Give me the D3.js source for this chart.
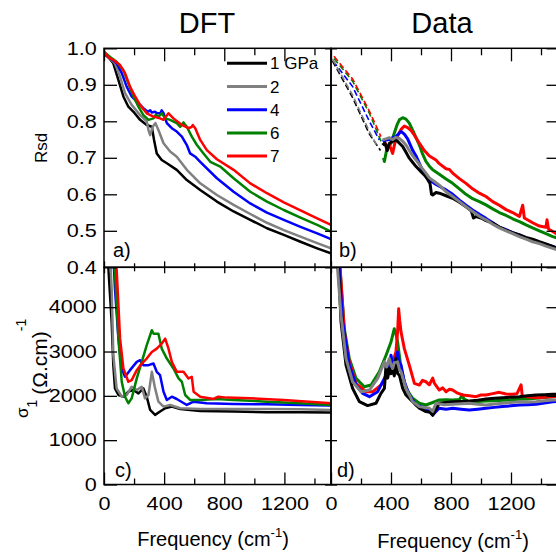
<!DOCTYPE html>
<html><head><meta charset="utf-8">
<script src="https://cdn.jsdelivr.net/npm/d3@7"></script>
<style>
body{margin:0;background:#fff}
svg text{font-family:"Liberation Sans",Arial,Helvetica,sans-serif;fill:#000}
</style></head>
<body><svg id="chart" width="556" height="554"></svg>
<script>
// ---------- series meta ----------
const pressures = ["1 GPa", "2", "4", "6", "7"];
const colors = ["#000000", "#808080", "#0000ff", "#008000", "#ff0000"];

// ---------- tick values ----------
const freqMajor = [0, 400, 800, 1200];
const freqMinor = [200, 600, 1000, 1400];
const rsdTicks = [0.4, 0.5, 0.6, 0.7, 0.8, 0.9, 1.0];
const sigmaTicks = [0, 1000, 2000, 3000, 4000];

// ---------- a) DFT Rsd  [frequency, Rsd] ----------
const dftRsd1 = [[0,0.985],[30,0.975],[62,0.959],[96,0.913],[129,0.868],[162,0.84],[196,0.826],[240,0.804],[284,0.79],[318,0.785],[333,0.749],[351,0.712],[384,0.694],[418,0.685],[484,0.667],[551,0.639],[640,0.612],[751,0.58],[862,0.553],[973,0.53],[1084,0.507],[1196,0.489],[1307,0.47],[1418,0.452],[1510,0.438]];
const dftRsd2 = [[0,0.988],[40,0.972],[73,0.959],[107,0.922],[140,0.877],[184,0.845],[240,0.817],[284,0.8],[296,0.776],[307,0.762],[324,0.785],[342,0.795],[362,0.776],[396,0.74],[440,0.717],[484,0.703],[551,0.667],[640,0.63],[751,0.598],[862,0.571],[973,0.546],[1084,0.522],[1196,0.502],[1307,0.484],[1418,0.466],[1510,0.452]];
const dftRsd4 = [[0,0.988],[45,0.972],[84,0.959],[118,0.932],[151,0.895],[184,0.868],[218,0.854],[262,0.836],[290,0.826],[307,0.83],[318,0.824],[340,0.826],[351,0.822],[375,0.822],[384,0.83],[396,0.822],[418,0.795],[451,0.781],[484,0.772],[518,0.758],[551,0.735],[573,0.712],[607,0.703],[640,0.689],[751,0.644],[862,0.607],[973,0.575],[1084,0.55],[1196,0.53],[1307,0.511],[1418,0.493],[1510,0.477]];
const dftRsd6 = [[0,0.99],[45,0.975],[84,0.963],[129,0.94],[162,0.904],[196,0.868],[229,0.84],[262,0.817],[296,0.804],[329,0.808],[345,0.818],[362,0.812],[384,0.822],[407,0.808],[440,0.804],[484,0.795],[507,0.785],[529,0.797],[540,0.79],[551,0.785],[584,0.758],[618,0.735],[662,0.712],[707,0.689],[773,0.676],[862,0.644],[973,0.607],[1084,0.58],[1196,0.557],[1307,0.536],[1418,0.516],[1510,0.498]];
const dftRsd7 = [[0,0.992],[30,0.975],[62,0.968],[107,0.954],[140,0.932],[173,0.895],[207,0.868],[240,0.845],[284,0.822],[329,0.813],[373,0.808],[396,0.804],[429,0.822],[462,0.808],[518,0.79],[562,0.781],[584,0.785],[590,0.79],[607,0.781],[640,0.749],[684,0.721],[751,0.696],[862,0.667],[973,0.63],[1084,0.603],[1196,0.578],[1307,0.556],[1418,0.534],[1510,0.516]];

// ---------- b) measured Rsd: dashed extrapolation + data ----------
const extRsd1 = [[10,0.965],[144,0.865],[256,0.765],[330,0.72]];
const extRsd2 = [[10,0.97],[144,0.872],[256,0.772],[311,0.73]];
const extRsd4 = [[15,0.965],[144,0.895],[256,0.8],[322,0.749]];
const extRsd6 = [[20,0.972],[144,0.91],[256,0.822],[344,0.735]];
const extRsd7 = [[20,0.978],[144,0.916],[256,0.828],[333,0.758]];

const dataRsd1 = [[344,0.735],[360,0.74],[375,0.72],[389,0.74],[411,0.745],[433,0.749],[456,0.74],[478,0.731],[500,0.715],[522,0.699],[544,0.688],[567,0.676],[600,0.662],[633,0.648],[660,0.63],[670,0.6],[678,0.598],[700,0.605],[722,0.603],[767,0.596],[811,0.589],[856,0.578],[900,0.566],[935,0.555],[950,0.535],[967,0.539],[1000,0.535],[1033,0.528],[1078,0.521],[1122,0.51],[1167,0.502],[1211,0.495],[1256,0.489],[1300,0.482],[1344,0.477],[1389,0.47],[1433,0.464],[1478,0.457],[1510,0.452]];
const dataRsd2 = [[344,0.749],[367,0.752],[389,0.755],[411,0.75],[433,0.756],[456,0.753],[478,0.745],[500,0.735],[522,0.72],[544,0.706],[567,0.694],[600,0.675],[633,0.658],[656,0.645],[689,0.635],[722,0.625],[767,0.607],[811,0.594],[856,0.58],[900,0.566],[944,0.553],[989,0.54],[1033,0.53],[1078,0.518],[1122,0.508],[1167,0.5],[1211,0.492],[1256,0.484],[1300,0.477],[1344,0.47],[1389,0.465],[1433,0.458],[1478,0.452],[1510,0.448]];
const dataRsd4 = [[344,0.745],[367,0.749],[389,0.75],[411,0.755],[433,0.758],[456,0.768],[467,0.772],[489,0.765],[511,0.752],[544,0.721],[567,0.705],[589,0.685],[611,0.665],[633,0.648],[656,0.64],[689,0.63],[722,0.622],[767,0.612],[811,0.6],[856,0.584],[900,0.57],[944,0.557],[989,0.545],[1033,0.534],[1078,0.522],[1122,0.51],[1167,0.503],[1211,0.495],[1256,0.489],[1300,0.48],[1344,0.472],[1389,0.467],[1433,0.462],[1478,0.457],[1510,0.453]];
const dataRsd6 = [[350,0.7],[356,0.69],[370,0.72],[385,0.73],[400,0.74],[420,0.765],[440,0.79],[456,0.804],[478,0.81],[500,0.806],[522,0.795],[544,0.776],[567,0.755],[589,0.735],[611,0.71],[633,0.69],[656,0.677],[678,0.667],[722,0.655],[767,0.642],[811,0.63],[856,0.615],[900,0.6],[944,0.588],[989,0.58],[1033,0.571],[1078,0.56],[1122,0.55],[1167,0.542],[1211,0.533],[1256,0.525],[1300,0.516],[1344,0.508],[1389,0.5],[1433,0.492],[1478,0.484],[1510,0.48]];
const dataRsd7 = [[356,0.745],[372,0.73],[390,0.735],[411,0.712],[428,0.745],[444,0.76],[467,0.778],[489,0.787],[511,0.783],[533,0.775],[556,0.762],[589,0.74],[622,0.72],[656,0.705],[700,0.694],[722,0.684],[767,0.67],[790,0.668],[811,0.658],[856,0.643],[900,0.63],[944,0.615],[989,0.603],[1033,0.594],[1078,0.58],[1122,0.57],[1167,0.558],[1211,0.55],[1256,0.539],[1278,0.57],[1289,0.535],[1344,0.522],[1389,0.513],[1433,0.51],[1440,0.53],[1450,0.505],[1478,0.498],[1510,0.49]];

// ---------- c) DFT sigma1  [frequency, sigma] ----------
const dftSig1 = [[10,12000],[29,4900],[51,3664],[62,2692],[73,2168],[96,2019],[129,1981],[162,2094],[196,2131],[229,2056],[262,2168],[284,1981],[307,1682],[340,1570],[373,1645],[407,1720],[451,1757],[507,1705],[640,1660],[862,1645],[1084,1630],[1307,1630],[1510,1622]];
const dftSig2 = [[15,12000],[44,4900],[51,4411],[62,2916],[84,2168],[118,1981],[151,2019],[184,2206],[218,2131],[251,2206],[273,1944],[296,2019],[318,2542],[340,2168],[362,1869],[396,1757],[440,1794],[507,1720],[640,1705],[862,1705],[1084,1705],[1307,1697],[1510,1682]];
const dftSig4 = [[20,12000],[66,4900],[73,4411],[96,3290],[118,2617],[140,2430],[173,2580],[218,2767],[240,2804],[262,2692],[296,2692],[329,2729],[351,2542],[373,2467],[396,2094],[418,1907],[451,1981],[484,1929],[551,1794],[596,1869],[684,1832],[862,1817],[1084,1809],[1307,1794],[1510,1780]];
const dftSig6 = [[20,12000],[70,4900],[73,4785],[96,3290],[118,2318],[140,1981],[162,1832],[184,1944],[218,2393],[251,2767],[284,3140],[318,3480],[330,3400],[362,3402],[384,3066],[418,2841],[462,2617],[496,2393],[518,2318],[540,2019],[573,1907],[640,1907],[751,1929],[862,1907],[1084,1869],[1307,1832],[1510,1794]];
const dftSig7 = [[20,12000],[80,4900],[84,4860],[107,3290],[129,2617],[162,2318],[184,2355],[218,2580],[251,2729],[284,2841],[318,2991],[351,3066],[384,3178],[407,3290],[429,3066],[451,2767],[484,2542],[529,2542],[562,2393],[584,2430],[596,2094],[640,1981],[729,1929],[760,1981],[818,1960],[973,1944],[1196,1907],[1510,1832]];

// ---------- d) measured sigma1 ----------
const dataSig1 = [[20,12000],[50,4900],[67,3664],[100,2692],[144,2168],[189,1869],[244,1780],[300,1832],[333,2056],[356,2168],[367,2692],[378,2400],[389,2617],[400,2500],[411,2580],[422,2450],[433,2841],[444,2500],[456,2467],[478,2168],[500,2019],[544,1869],[589,1720],[633,1645],[660,1630],[678,1560],[690,1640],[722,1832],[767,1850],[811,1869],[867,1875],[922,1884],[978,1900],[1033,1929],[1089,1945],[1144,1959],[1200,1970],[1256,1981],[1311,2000],[1367,2019],[1422,2025],[1478,2034],[1510,2040]];
const dataSig2 = [[15,12000],[44,4860],[67,3813],[100,2841],[144,2318],[200,2094],[256,2131],[311,2393],[356,2767],[370,2650],[389,2841],[400,2700],[411,2617],[422,2750],[444,2767],[456,2600],[467,2542],[500,2168],[544,1869],[589,1757],[656,1720],[678,1650],[700,1832],[756,1800],[811,1809],[867,1820],[922,1832],[978,1810],[1033,1794],[1089,1815],[1144,1832],[1200,1850],[1256,1869],[1311,1860],[1367,1869],[1422,1890],[1478,1907],[1510,1910]];
const dataSig4 = [[20,12000],[56,4785],[78,3664],[122,2692],[167,2243],[211,2056],[256,1981],[311,2094],[356,2393],[389,2617],[400,2916],[411,2700],[422,2692],[433,2850],[444,2991],[456,2750],[467,2692],[489,2318],[522,2019],[567,1794],[633,1720],[660,1650],[678,1570],[700,1650],[722,1720],[767,1700],[811,1720],[867,1700],[922,1682],[978,1700],[1033,1720],[1089,1740],[1144,1757],[1200,1775],[1256,1794],[1311,1800],[1367,1809],[1422,1840],[1478,1869],[1510,1870]];
const dataSig6 = [[20,12000],[60,4860],[89,3514],[122,2841],[167,2393],[222,2206],[267,2243],[322,2542],[367,2916],[400,3215],[422,3514],[433,3400],[444,3215],[456,2900],[467,2617],[500,2168],[544,1944],[589,1832],[633,1794],[678,1850],[722,1907],[767,1910],[811,1907],[856,1920],[878,2020],[885,1930],[922,1869],[978,1875],[1033,1884],[1089,1890],[1144,1899],[1200,1910],[1256,1922],[1311,1930],[1367,1944],[1422,1960],[1478,1981],[1510,1985]];
const dataSig7 = [[20,12000],[60,4935],[89,3439],[122,2767],[167,2280],[233,2094],[278,2094],[333,2243],[378,2467],[411,2767],[433,2991],[445,3500],[451,3963],[458,3700],[467,3439],[489,3066],[522,2692],[556,2280],[589,2243],[610,2350],[633,2318],[656,2250],[678,2400],[690,2280],[722,2131],[745,2180],[767,2094],[790,2150],[811,2131],[844,2060],[878,2019],[922,2000],[967,1981],[1000,2020],[1033,2019],[1078,2050],[1122,2079],[1167,2040],[1211,2034],[1240,2050],[1267,2250],[1275,2000],[1300,1981],[1344,1970],[1389,1959],[1433,1975],[1478,1981],[1510,1990]];

// ---------- layout ----------
const svg = d3.select("#chart");
const xL = 104, xM = 331, xR = 557.5;
const yT = 48.3, yM = 267.3, yB = 484.5;

const xLeft = d3.scaleLinear().domain([0, 1510]).range([xL, xM]);
const xRight = d3.scaleLinear().domain([0, 1510]).range([xM, xR]);
const yRsd = d3.scaleLinear().domain([0.4, 1.0]).range([yM, yT]);
const ySig = d3.scaleLinear().domain([0, 4900]).range([yB, yM]);

const panels = [
  {id:"a", x:xLeft, y:yRsd, solid:[dftRsd1,dftRsd2,dftRsd4,dftRsd6,dftRsd7], order:[0,1,2,3,4], w:2.5},
  {id:"b", x:xRight, y:yRsd, dashed:[extRsd1,extRsd2,extRsd4,extRsd6,extRsd7], solid:[dataRsd1,dataRsd2,dataRsd4,dataRsd6,dataRsd7], order:[3,4,2,0,1], w:3},
  {id:"c", x:xLeft, y:ySig, solid:[dftSig1,dftSig2,dftSig4,dftSig6,dftSig7], order:[0,1,2,3,4], w:2.5},
  {id:"d", x:xRight, y:ySig, solid:[dataSig1,dataSig2,dataSig4,dataSig6,dataSig7], order:[3,4,2,0,1], w:3}
];

const defs = svg.append("defs");
panels.forEach(p => {
  const [x0, x1] = p.x.range();
  const [y0, y1] = p.y.range();
  defs.append("clipPath").attr("id", "clip-" + p.id)
    .append("rect").attr("x", x0).attr("y", y1).attr("width", x1 - x0).attr("height", y0 - y1);
  const g = svg.append("g").attr("clip-path", `url(#clip-${p.id})`);
  const line = d3.line().x(d => p.x(d[0])).y(d => p.y(d[1]));
  if (p.dashed) {
    p.order.forEach(i => {
      g.append("path").datum(p.dashed[i]).attr("d", line)
        .attr("fill", "none").attr("stroke", colors[i]).attr("stroke-width", 1.6)
        .attr("stroke-dasharray", "6,3");
    });
  }
  p.order.forEach(i => {
    g.append("path").datum(p.solid[i]).attr("d", line)
      .attr("fill", "none").attr("stroke", colors[i]).attr("stroke-width", p.w)
      .attr("stroke-linejoin", "round");
  });
});

// ---------- axes ----------
const tickFont = 18, tickStretch = 1.2;
function styleAxis(g) {
  g.select(".domain").remove();
  g.selectAll(".tick line").attr("stroke", "#000").attr("stroke-width", 1.3);
  g.selectAll(".tick text").attr("font-size", tickFont)
    .attr("font-family", '"Liberation Sans",Arial,sans-serif').attr("fill", "#000")
    .attr("transform", `scale(${tickStretch},1)`);
}
function xAxes(scale, yPos, gen, major, minor, labels) {
  const a = svg.append("g").attr("transform", `translate(0,${yPos})`)
    .call(gen(scale).tickValues(freqMajor).tickSize(major).tickSizeOuter(0).tickPadding(13)
      .tickFormat(labels ? d3.format("d") : ""));
  styleAxis(a);
  const b = svg.append("g").attr("transform", `translate(0,${yPos})`)
    .call(gen(scale).tickValues(freqMinor).tickSize(minor).tickSizeOuter(0).tickFormat(""));
  styleAxis(b);
}
function yAxis(scale, xPos, gen, size, values, fmt) {
  const a = svg.append("g").attr("transform", `translate(${xPos},0)`)
    .call(gen(scale).tickValues(values).tickSize(size).tickSizeOuter(0).tickPadding(6)
      .tickFormat(fmt || ""));
  styleAxis(a);
}

// x axes
xAxes(xLeft, yT, d3.axisTop, -13, -7, false);
xAxes(xRight, yT, d3.axisTop, -13, -7, false);
xAxes(xLeft, yM, d3.axisBottom, -6, -4, false);
xAxes(xRight, yM, d3.axisBottom, -6, -4, false);
xAxes(xLeft, yM, d3.axisTop, -6, -4, false);
xAxes(xRight, yM, d3.axisTop, -6, -4, false);
xAxes(xLeft, yB, d3.axisBottom, -12, -6, true);
xAxes(xRight, yB, d3.axisBottom, -12, -6, true);

// y axes
yAxis(yRsd, xL, d3.axisLeft, -13, rsdTicks, d3.format(".1f"));
yAxis(ySig, xL, d3.axisLeft, -13, sigmaTicks, d3.format("d"));
yAxis(yRsd, xM, d3.axisRight, -6, rsdTicks);
yAxis(ySig, xM, d3.axisRight, -6, sigmaTicks);
yAxis(yRsd, xM, d3.axisLeft, -6, rsdTicks);
yAxis(ySig, xM, d3.axisLeft, -6, sigmaTicks);
yAxis(yRsd, xR, d3.axisRight, -11, rsdTicks);
yAxis(ySig, xR, d3.axisRight, -11, sigmaTicks);

// frames
panels.forEach(p => {
  const [x0, x1] = p.x.range();
  const [y0, y1] = p.y.range();
  svg.append("rect").attr("x", x0).attr("y", y1).attr("width", x1 - x0).attr("height", y0 - y1)
    .attr("fill", "none").attr("stroke", "#000").attr("stroke-width", 1.5);
});

// ---------- legend ----------
const legY0 = 63.3, legDy = 23.2;
pressures.forEach((name, i) => {
  const y = legY0 + i * legDy;
  svg.append("line").attr("x1", 227).attr("x2", 267).attr("y1", y).attr("y2", y)
    .attr("stroke", colors[i]).attr("stroke-width", 3);
  svg.append("text").attr("x", 270).attr("y", y + 6).attr("font-size", 17).text(name);
});

// ---------- titles & labels ----------
svg.append("text").attr("x", 207).attr("y", 33).attr("text-anchor", "middle").attr("font-size", 29).text("DFT");
svg.append("text").attr("x", 442).attr("y", 33).attr("text-anchor", "middle").attr("font-size", 29).text("Data");

[["a)", 113, 257], ["b)", 339, 257], ["c)", 115, 477], ["d)", 337, 477]].forEach(([t, x, y]) => {
  svg.append("text").attr("x", x).attr("y", y).attr("font-size", 20).text(t);
});

svg.append("text").attr("transform", "translate(47,148) rotate(-90)").attr("text-anchor", "middle")
  .attr("font-size", 17).text("Rsd");

// sigma_1 (Ω.cm)^-1 : σ1 raised as in the original figure
const sl = svg.append("text").attr("transform", "translate(47,418) rotate(-90)")
  .attr("font-size", 21);
sl.append("tspan").attr("font-size", 17).attr("dy", -19).text("σ");
sl.append("tspan").attr("font-size", 14).attr("dy", 9).text("1");
sl.append("tspan").attr("dy", 10).attr("dx", 5).text("(Ω.cm)");
sl.append("tspan").attr("font-size", 14).attr("dy", -21).text("-1");

function freqLabel(x, y) {
  const t = svg.append("text").attr("x", x).attr("y", y).attr("text-anchor", "middle").attr("font-size", 20);
  t.append("tspan").text("Frequency (cm");
  t.append("tspan").attr("font-size", 13).attr("dy", -9).text("-1");
  t.append("tspan").attr("dy", 9).text(")");
}
freqLabel(213, 546);
freqLabel(453, 548);
</script>
</body></html>
